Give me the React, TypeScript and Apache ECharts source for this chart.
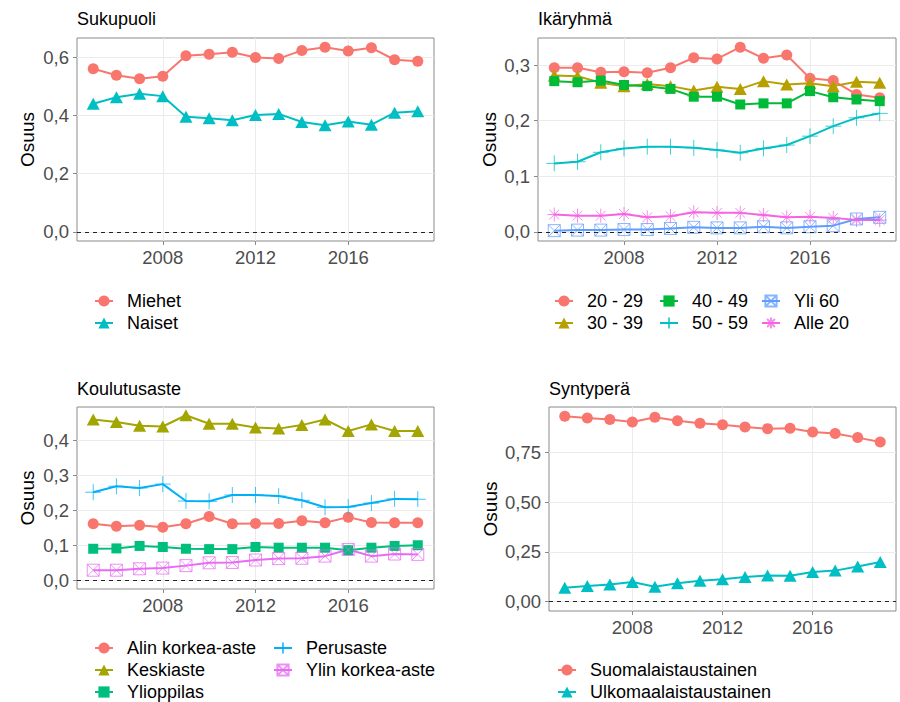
import React, { useEffect, useRef } from 'react';
import * as echarts from 'echarts';

const years = [2005, 2006, 2007, 2008, 2009, 2010, 2011, 2012, 2013, 2014, 2015, 2016, 2017, 2018, 2019];
const xTicks = [2008, 2012, 2016];

// Sukupuoli
const sukupuoliNames = ['Miehet', 'Naiset'];
const miehet = [0.560, 0.538, 0.526, 0.534, 0.605, 0.610, 0.617, 0.599, 0.595, 0.623, 0.634, 0.621, 0.632, 0.591, 0.586];
const naiset = [0.440, 0.462, 0.474, 0.466, 0.395, 0.390, 0.383, 0.401, 0.405, 0.377, 0.366, 0.379, 0.368, 0.409, 0.414];
const sukupuoliTicks = [0, 0.2, 0.4, 0.6];

// Ikäryhmä
const ikaNames = ['20 - 29', '30 - 39', '40 - 49', '50 - 59', 'Yli 60', 'Alle 20'];
const age20_29 = [0.295, 0.295, 0.287, 0.288, 0.286, 0.295, 0.313, 0.311, 0.332, 0.312, 0.318, 0.276, 0.272, 0.247, 0.241];
const age30_39 = [0.281, 0.280, 0.268, 0.262, 0.266, 0.262, 0.254, 0.261, 0.257, 0.271, 0.265, 0.267, 0.262, 0.270, 0.268];
const age40_49 = [0.271, 0.269, 0.272, 0.264, 0.262, 0.257, 0.243, 0.243, 0.229, 0.231, 0.231, 0.253, 0.242, 0.238, 0.235];
const age50_59 = [0.123, 0.126, 0.143, 0.150, 0.153, 0.153, 0.151, 0.147, 0.142, 0.150, 0.156, 0.172, 0.190, 0.205, 0.213];
const yli60 = [0.002, 0.003, 0.003, 0.004, 0.004, 0.006, 0.008, 0.007, 0.007, 0.009, 0.007, 0.009, 0.011, 0.023, 0.026];
const alle20 = [0.031, 0.029, 0.029, 0.032, 0.026, 0.028, 0.035, 0.034, 0.034, 0.030, 0.026, 0.027, 0.025, 0.021, 0.021];
const ikaTicks = [0, 0.1, 0.2, 0.3];

// Koulutusaste
const koulutusNames = ['Alin korkea-aste', 'Keskiaste', 'Ylioppilas', 'Perusaste', 'Ylin korkea-aste'];
const alinKorkea = [0.162, 0.155, 0.158, 0.152, 0.162, 0.183, 0.162, 0.163, 0.163, 0.171, 0.165, 0.181, 0.166, 0.165, 0.165];
const keskiaste = [0.459, 0.452, 0.441, 0.439, 0.471, 0.447, 0.447, 0.436, 0.433, 0.443, 0.459, 0.426, 0.445, 0.426, 0.426];
const ylioppilas = [0.091, 0.092, 0.099, 0.096, 0.091, 0.090, 0.090, 0.096, 0.094, 0.094, 0.094, 0.087, 0.094, 0.099, 0.101];
const perusaste = [0.252, 0.269, 0.264, 0.275, 0.227, 0.226, 0.244, 0.244, 0.241, 0.229, 0.209, 0.210, 0.221, 0.233, 0.232];
const ylinKorkea = [0.030, 0.030, 0.034, 0.036, 0.043, 0.051, 0.052, 0.059, 0.063, 0.064, 0.070, 0.089, 0.070, 0.076, 0.075];
const koulutusTicks = [0, 0.1, 0.2, 0.3, 0.4];

// Syntyperä
const syntyNames = ['Suomalaistaustainen', 'Ulkomaalaistaustainen'];
const suomalais = [0.930, 0.921, 0.914, 0.901, 0.925, 0.907, 0.895, 0.887, 0.876, 0.868, 0.870, 0.851, 0.844, 0.823, 0.801];
const ulkomaalais = [0.070, 0.079, 0.086, 0.099, 0.075, 0.093, 0.105, 0.113, 0.124, 0.132, 0.130, 0.149, 0.156, 0.177, 0.199];
const syntyTicks = [0, 0.25, 0.5, 0.75];

const FONT = '"Liberation Sans", Arial, Helvetica, sans-serif';
const BORDER = '#8a8a8a';
const GRIDLINE = '#EBEBEB';

type ShapeKey = 'circle' | 'triangle' | 'square' | 'plus' | 'squareCross' | 'asterisk';
const SHAPES: Record<ShapeKey, { symbol: string; size: number | number[]; filled: boolean }> = {
  circle: { symbol: 'circle', size: 11, filled: true },
  triangle: { symbol: 'triangle', size: [13, 12], filled: true },
  square: { symbol: 'rect', size: 10, filled: true },
  plus: { symbol: 'path://M0,5L10,5M5,0L5,10', size: 16, filled: false },
  squareCross: { symbol: 'path://M0,0L10,0L10,10L0,10Z M0,0L10,10 M10,0L0,10', size: 12, filled: false },
  asterisk: { symbol: 'path://M5,0L5,10 M0,5L10,5 M1.5,1.5L8.5,8.5 M8.5,1.5L1.5,8.5', size: 14, filled: false },
};

function makeSeries(name: string, values: number[], color: string, shape: ShapeKey, gi: number, withZero: boolean) {
  const s = SHAPES[shape];
  const series: any = {
    type: 'line',
    name,
    xAxisIndex: gi,
    yAxisIndex: gi,
    data: years.map((y, i) => [y, values[i]]),
    symbol: s.symbol,
    symbolSize: s.size,
    showAllSymbol: true,
    lineStyle: { color, width: 2 },
    itemStyle: s.filled
      ? { color, borderWidth: 0 }
      : { color: 'rgba(0,0,0,0)', borderColor: color, borderWidth: 1, opacity: 0.75 },
    emphasis: { disabled: true },
    silent: true,
    z: 3,
  };
  if (withZero) {
    series.markLine = {
      silent: true,
      symbol: 'none',
      label: { show: false },
      lineStyle: { color: '#222', type: [4, 4], width: 1 },
      emphasis: { disabled: true },
      data: [{ yAxis: 0 }],
    };
  }
  return series;
}

function yRange(arrs: number[][]) {
  const mx = Math.max(0, ...arrs.flat());
  const mn = Math.min(0, ...arrs.flat());
  const p = (mx - mn) * 0.05;
  return [mn - p, mx + p];
}

function makeX(gi: number) {
  return {
    type: 'value',
    gridIndex: gi,
    min: 2004.3,
    max: 2019.7,
    axisLine: { show: false, onZero: false },
    axisTick: { show: true, length: 4, customValues: xTicks, lineStyle: { color: BORDER } },
    axisLabel: { customValues: xTicks, formatter: (v: number) => String(v), color: '#4D4D4D', fontSize: 18.5, margin: 7, fontFamily: FONT },
    splitLine: { show: true, lineStyle: { color: GRIDLINE, width: 1 } },
  };
}

function makeY(gi: number, ticks: number[], arrs: number[][], decimals: number) {
  const [mn, mx] = yRange(arrs);
  return {
    type: 'value',
    gridIndex: gi,
    min: mn,
    max: mx,
    axisLine: { show: false },
    axisTick: { show: true, length: 4, customValues: ticks, lineStyle: { color: BORDER } },
    axisLabel: {
      customValues: ticks,
      formatter: (v: number) => v.toFixed(decimals).replace('.', ','),
      color: '#4D4D4D',
      fontSize: 18.5,
      margin: 8,
      fontFamily: FONT,
    },
    splitLine: { show: true, lineStyle: { color: GRIDLINE, width: 1 } },
  };
}

const legendBase = {
  orient: 'vertical',
  itemWidth: 18,
  itemHeight: 14,
  itemGap: 4,
  padding: 0,
  height: 90,
  width: 300,
  selectedMode: false,
  textStyle: { fontSize: 18, color: '#000', fontFamily: FONT, lineHeight: 18, padding: [0, 0, 0, 9] },
};

export default function App() {
  const ref = useRef<HTMLDivElement>(null);
  useEffect(() => {
    if (!ref.current) return;
    const chart = echarts.init(ref.current, undefined, { renderer: 'svg' });
    const grids = [
      { left: 77, top: 38, width: 357, height: 203 },
      { left: 538, top: 38, width: 358, height: 203 },
      { left: 77, top: 407, width: 357, height: 182 },
      { left: 549, top: 407, width: 347, height: 204 },
    ].map((g) => ({ ...g, show: true, borderColor: BORDER, borderWidth: 1, backgroundColor: '#fff', containLabel: false, outerBoundsMode: 'none' }));

    const titleStyle = { fontSize: 18, fontWeight: 'normal', color: '#000', fontFamily: FONT };
    const option: any = {
      animation: false,
      backgroundColor: '#fff',
      title: [
        { text: 'Sukupuoli', left: 77, top: 10, padding: 0, textStyle: titleStyle },
        { text: 'Ikäryhmä', left: 538, top: 10, padding: 0, textStyle: titleStyle },
        { text: 'Koulutusaste', left: 77, top: 380, padding: 0, textStyle: titleStyle },
        { text: 'Syntyperä', left: 549, top: 380, padding: 0, textStyle: titleStyle },
      ],
      grid: grids,
      xAxis: [makeX(0), makeX(1), makeX(2), makeX(3)],
      yAxis: [
        makeY(0, sukupuoliTicks, [miehet, naiset], 1),
        makeY(1, ikaTicks, [age20_29, age30_39, age40_49, age50_59, yli60, alle20], 1),
        makeY(2, koulutusTicks, [alinKorkea, keskiaste, ylioppilas, perusaste, ylinKorkea], 1),
        makeY(3, syntyTicks, [suomalais, ulkomaalais], 2),
      ],
      legend: [
        { ...legendBase, data: sukupuoliNames, left: 94, top: 292 },
        { ...legendBase, data: [ikaNames[0], ikaNames[1]], left: 554, top: 292, width: 100 },
        { ...legendBase, data: [ikaNames[2], ikaNames[3]], left: 659, top: 292, width: 100 },
        { ...legendBase, data: [ikaNames[4], ikaNames[5]], left: 761, top: 292, width: 130 },
        { ...legendBase, data: [koulutusNames[0], koulutusNames[1], koulutusNames[2]], left: 94, top: 639, width: 175 },
        { ...legendBase, data: [koulutusNames[3], koulutusNames[4]], left: 273, top: 639, width: 200 },
        { ...legendBase, data: syntyNames, left: 557, top: 661, width: 330 },
      ],
      graphic: [
        { type: 'text', x: 27, y: 139.5, rotation: Math.PI / 2, style: { text: 'Osuus', fontSize: 19, fill: '#000', align: 'center', verticalAlign: 'middle', fontFamily: FONT } },
        { type: 'text', x: 489, y: 139.5, rotation: Math.PI / 2, style: { text: 'Osuus', fontSize: 19, fill: '#000', align: 'center', verticalAlign: 'middle', fontFamily: FONT } },
        { type: 'text', x: 27, y: 498, rotation: Math.PI / 2, style: { text: 'Osuus', fontSize: 19, fill: '#000', align: 'center', verticalAlign: 'middle', fontFamily: FONT } },
        { type: 'text', x: 490, y: 509, rotation: Math.PI / 2, style: { text: 'Osuus', fontSize: 19, fill: '#000', align: 'center', verticalAlign: 'middle', fontFamily: FONT } },
      ],
      series: [
        makeSeries(sukupuoliNames[0], miehet, '#F8766D', 'circle', 0, true),
        makeSeries(sukupuoliNames[1], naiset, '#00BFC4', 'triangle', 0, false),

        makeSeries(ikaNames[0], age20_29, '#F8766D', 'circle', 1, true),
        makeSeries(ikaNames[1], age30_39, '#B79F00', 'triangle', 1, false),
        makeSeries(ikaNames[2], age40_49, '#00BA38', 'square', 1, false),
        makeSeries(ikaNames[3], age50_59, '#00BFC4', 'plus', 1, false),
        makeSeries(ikaNames[4], yli60, '#619CFF', 'squareCross', 1, false),
        makeSeries(ikaNames[5], alle20, '#F564E3', 'asterisk', 1, false),

        makeSeries(koulutusNames[0], alinKorkea, '#F8766D', 'circle', 2, true),
        makeSeries(koulutusNames[1], keskiaste, '#A3A500', 'triangle', 2, false),
        makeSeries(koulutusNames[2], ylioppilas, '#00BF7D', 'square', 2, false),
        makeSeries(koulutusNames[3], perusaste, '#00B0F6', 'plus', 2, false),
        makeSeries(koulutusNames[4], ylinKorkea, '#E76BF3', 'squareCross', 2, false),

        makeSeries(syntyNames[0], suomalais, '#F8766D', 'circle', 3, true),
        makeSeries(syntyNames[1], ulkomaalais, '#00BFC4', 'triangle', 3, false),
      ],
    };
    chart.setOption(option);
    return () => chart.dispose();
  }, []);
  return <div ref={ref} style={{ position: 'fixed', left: 0, top: 0, width: 900, height: 702, background: '#fff' }} />;
}
